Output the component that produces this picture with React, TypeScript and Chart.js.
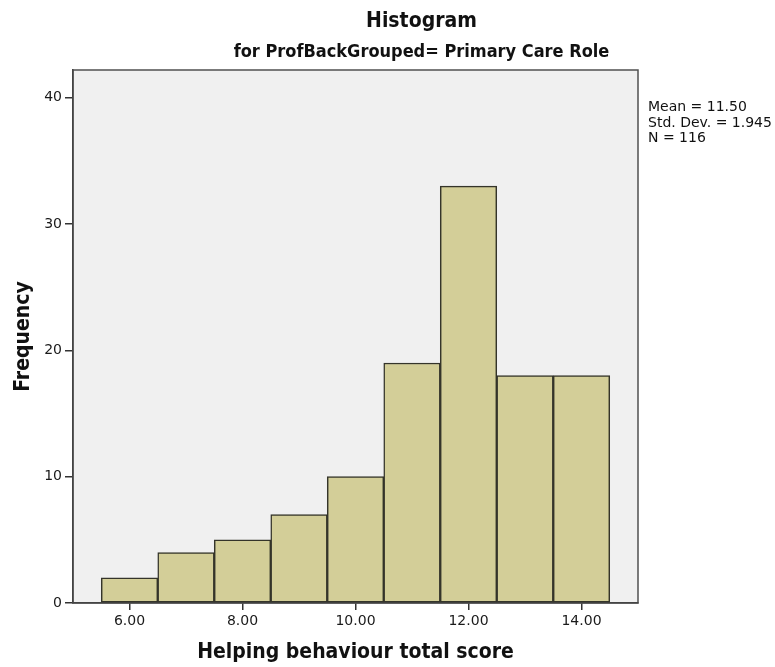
import React, { useEffect, useRef } from "react";
import { Chart, registerables } from "chart.js";

Chart.register(...registerables);

const BIN_CENTERS = [6, 7, 8, 9, 10, 11, 12, 13, 14];
const FREQUENCIES = [2, 4, 5, 7, 10, 19, 33, 18, 18];
const X_TICKS = [6, 8, 10, 12, 14];
const Y_TICKS = [0, 10, 20, 30, 40];
const TITLE = "Histogram";
const SUBTITLE = "for ProfBackGrouped= Primary Care Role";
const X_TITLE = "Helping behaviour total score";
const Y_TITLE = "Frequency";
const STATS = ["Mean = 11.50", "Std. Dev. = 1.945", "N = 116"];

const COND = '"DejaVu Sans Condensed", "DejaVu Sans", sans-serif';
const REG = '"DejaVu Sans", sans-serif';

const decorPlugin = {
  id: "decor",
  beforeDraw(chart: any) {
    const { ctx, chartArea } = chart;
    const { left, top, right, bottom } = chartArea;
    ctx.save();
    ctx.fillStyle = "#f0f0f0";
    ctx.fillRect(left, top, right - left, bottom - top);
    ctx.strokeStyle = "#505050";
    ctx.lineWidth = 1.5;
    ctx.strokeRect(left, top, right - left, bottom - top);
    ctx.restore();
  },
  afterDraw(chart: any) {
    const { ctx } = chart;
    ctx.save();
    ctx.fillStyle = "#111111";
    ctx.textAlign = "center";
    ctx.textBaseline = "alphabetic";
    ctx.font = `bold 21px ${COND}`;
    ctx.fillText(TITLE, 421.5, 27);
    ctx.font = `bold 18px ${COND}`;
    ctx.fillText(SUBTITLE, 421.5, 57);
    ctx.textAlign = "left";
    ctx.font = `14px ${REG}`;
    STATS.forEach((s, i) => ctx.fillText(s, 648, 111 + i * 15.5));
    ctx.restore();
  },
};

export default function App() {
  const ref = useRef<HTMLCanvasElement>(null);
  useEffect(() => {
    document.body.style.margin = "0";
    const chart = new Chart(ref.current as HTMLCanvasElement, {
      type: "bar",
      data: {
        datasets: [
          {
            data: BIN_CENTERS.map((x, i) => ({ x, y: FREQUENCIES[i] })),
            backgroundColor: "#d3ce98",
            borderColor: "#34342a",
            borderWidth: 1.5,
            borderSkipped: false,
            barPercentage: 1,
            categoryPercentage: 1,
          },
        ],
      },
      options: {
        animation: false,
        responsive: false,
        layout: { padding: { top: 70, right: 137, bottom: 0, left: 0 } },
        plugins: {
          legend: { display: false },
          tooltip: { enabled: false },
          title: { display: false },
        },
        scales: {
          x: {
            type: "linear",
            min: 5,
            max: 15,
            offset: false,
            afterBuildTicks: (scale: any) => {
              scale.ticks = X_TICKS.map((value) => ({ value }));
            },
            afterFit: (scale: any) => {
              scale.height = 64;
            },
            ticks: {
              callback: (v: any) => Number(v).toFixed(2),
              font: { family: REG, size: 14 },
              color: "#1a1a1a",
              padding: 3,
              maxRotation: 0,
              autoSkip: false,
            },
            grid: {
              offset: false,
              drawOnChartArea: false,
              drawTicks: true,
              tickLength: 7,
              color: "#333333",
              lineWidth: 1.5,
            },
            border: { display: true, color: "#444444", width: 1.5 },
            title: {
              display: true,
              text: X_TITLE,
              font: { family: COND, size: 21, weight: "bold" },
              color: "#111111",
              padding: { top: 0, bottom: 2 },
            },
          },
          y: {
            type: "linear",
            min: 0,
            max: 42.2,
            afterBuildTicks: (scale: any) => {
              scale.ticks = Y_TICKS.map((value) => ({ value }));
            },
            afterFit: (scale: any) => {
              scale.width = 73;
            },
            ticks: {
              callback: (v: any) => String(v),
              font: { family: REG, size: 14 },
              color: "#1a1a1a",
              padding: 3,
            },
            grid: {
              drawOnChartArea: false,
              drawTicks: true,
              tickLength: 8,
              color: "#333333",
              lineWidth: 1.5,
            },
            border: { display: true, color: "#444444", width: 1.5 },
            title: {
              display: true,
              text: Y_TITLE,
              font: { family: COND, size: 21, weight: "bold" },
              color: "#111111",
              padding: { top: 11, bottom: 0 },
            },
          },
        },
      },
      plugins: [decorPlugin],
    });
    return () => chart.destroy();
  }, []);
  return (
    <canvas ref={ref} width={775} height={667} style={{ display: "block" }} />
  );
}
